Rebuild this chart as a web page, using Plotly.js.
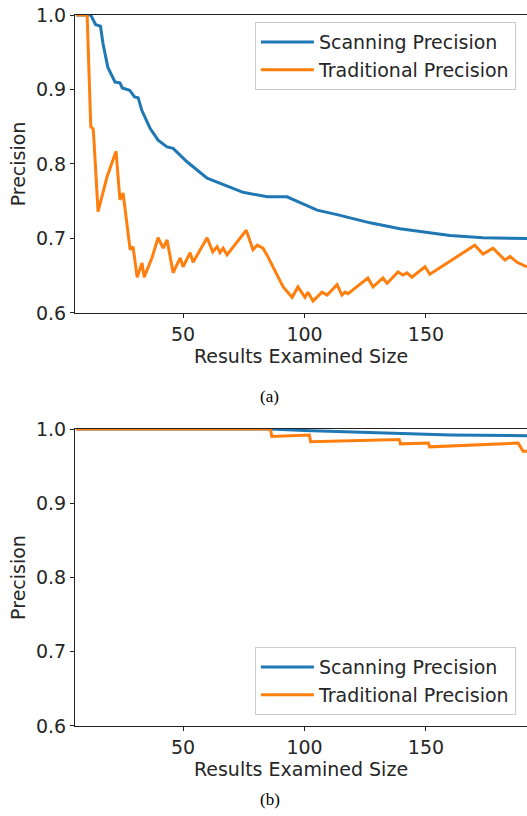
<!DOCTYPE html>
<html>
<head>
<meta charset="utf-8">
<script src="https://cdn.plot.ly/plotly-3.0.1.min.js"></script>
<style>html,body{margin:0;padding:0;background:#fff;}#chart{width:527px;height:816px;}</style>
</head>
<body>
<div id="chart"></div>
<script>
// ---- Data (a) ----
const scanX_a = [6, 12, 14, 16, 17, 19, 22, 24, 25, 28, 30, 31.5, 33, 36.4, 39.7, 43.4, 45.9, 50, 51.6, 59.9, 65.2, 74.7, 84.6, 92.8, 98.2, 105.2, 113.4, 118.7, 127, 139.3, 150.4, 159.9, 173.5, 191.6];
const scanY_a = [1.0, 1.0, 0.987, 0.985, 0.962, 0.930, 0.910, 0.909, 0.902, 0.899, 0.890, 0.889, 0.872, 0.848, 0.832, 0.823, 0.821, 0.808, 0.803, 0.781, 0.774, 0.762, 0.756, 0.756, 0.748, 0.738, 0.732, 0.728, 0.721, 0.713, 0.708, 0.704, 0.701, 0.700];
const tradX_a = [6, 10.5, 12, 13, 13.3, 15, 18.7, 22.4, 24, 25.3, 28.2, 29.4, 31.1, 33.1, 34, 37.3, 39.7, 41.8, 43.4, 45.9, 48.8, 50, 52.9, 54.1, 59.9, 62.2, 64, 65.2, 66.5, 68.1, 76, 78.8, 80.5, 82.9, 85, 91.2, 94.9, 97.3, 100.2, 101.4, 103.5, 107.2, 109.3, 113.4, 115.4, 116.7, 117.9, 126.1, 128.2, 132.3, 134, 138.5, 140.5, 142.2, 144.2, 149.6, 151.6, 170.1, 173.5, 177.6, 182.5, 184.6, 187.5, 191.6];
const tradY_a = [1.0, 1.0, 0.850, 0.847, 0.832, 0.736, 0.783, 0.817, 0.752, 0.761, 0.685, 0.689, 0.648, 0.667, 0.648, 0.675, 0.701, 0.687, 0.698, 0.654, 0.674, 0.662, 0.681, 0.668, 0.701, 0.682, 0.689, 0.681, 0.687, 0.678, 0.711, 0.685, 0.691, 0.687, 0.675, 0.635, 0.621, 0.635, 0.621, 0.628, 0.616, 0.628, 0.624, 0.638, 0.624, 0.628, 0.626, 0.647, 0.635, 0.647, 0.640, 0.655, 0.651, 0.654, 0.648, 0.662, 0.652, 0.691, 0.679, 0.687, 0.671, 0.676, 0.668, 0.662];
// ---- Data (b) ----
const scanX_b = [6, 86, 100, 120, 140, 160, 191.6];
const scanY_b = [1.0, 1.0, 0.998, 0.996, 0.994, 0.992, 0.991];
const tradX_b = [6, 86, 86.5, 102, 102.5, 139, 139.5, 151, 151.5, 188, 190, 191.6];
const tradY_b = [1.0, 1.0, 0.990, 0.992, 0.983, 0.986, 0.980, 0.981, 0.976, 0.981, 0.970, 0.970];
const names = ["Scanning Precision", "Traditional Precision"];
const xTicks = [50, 100, 150];
const yTicks = [0.6, 0.7, 0.8, 0.9, 1.0];

const BLUE = "#1f77b4", ORANGE = "#ff7f0e";
const FONT = "DejaVu Sans";
const FS = 19;
const traces = [
  {x: scanX_a, y: scanY_a, name: names[0], mode: "lines", line: {color: BLUE, width: 3}, xaxis: "x", yaxis: "y", legend: "legend"},
  {x: tradX_a, y: tradY_a, name: names[1], mode: "lines", line: {color: ORANGE, width: 3}, xaxis: "x", yaxis: "y", legend: "legend"},
  {x: scanX_b, y: scanY_b, name: names[0], mode: "lines", line: {color: BLUE, width: 3}, xaxis: "x2", yaxis: "y2", legend: "legend2"},
  {x: tradX_b, y: tradY_b, name: names[1], mode: "lines", line: {color: ORANGE, width: 3}, xaxis: "x2", yaxis: "y2", legend: "legend2"}
];
function xa(anchor) {
  return {anchor: anchor, domain: [0, 1], range: [5.5, 191.6], tickvals: xTicks, ticks: "outside", ticklen: 4, tickcolor: "#222",
    showline: true, linecolor: "#222", linewidth: 1, mirror: true, showgrid: false, zeroline: false,
    tickfont: {family: FONT, size: FS, color: "#262626"},
    title: {text: "Results Examined Size", font: {family: FONT, size: FS, color: "#262626"}, standoff: 2}};
}
function ya(anchor, dom) {
  return {anchor: anchor, domain: dom, range: [0.6, 1.0], tickvals: yTicks, tickformat: ".1f", ticks: "outside", ticklen: 4, tickcolor: "#222",
    showline: true, linecolor: "#222", linewidth: 1, showgrid: false, zeroline: false,
    tickfont: {family: FONT, size: FS, color: "#262626"},
    title: {text: "Precision", font: {family: FONT, size: FS, color: "#262626"}, standoff: 5}};
}
const legendBase = {xanchor: "left", yanchor: "top", bordercolor: "#cccccc", borderwidth: 1, bgcolor: "rgba(255,255,255,0.8)",
  itemwidth: 53, font: {family: FONT, size: FS, color: "#262626"}};
const layout = {
  width: 527, height: 816, margin: {l: 75, r: 0, t: 15, b: 90},
  paper_bgcolor: "#fff", plot_bgcolor: "#fff", showlegend: true,
  xaxis: xa("y"), yaxis: ya("x", [0.5809, 1]),
  xaxis2: xa("y2"), yaxis2: ya("x2", [0, 0.4177]),
  legend: Object.assign({x: 0.398, y: 0.990}, legendBase),
  legend2: Object.assign({x: 0.398, y: 0.111}, legendBase),
  annotations: [
    {text: "(a)", xref: "paper", yref: "paper", x: 0.431, y: 0.464, xanchor: "center", yanchor: "middle", showarrow: false, font: {family: "Liberation Serif", size: 17, color: "#000"}},
    {text: "(b)", xref: "paper", yref: "paper", x: 0.431, y: -0.104, xanchor: "center", yanchor: "middle", showarrow: false, font: {family: "Liberation Serif", size: 17, color: "#000"}}
  ]
};
Plotly.newPlot("chart", traces, layout, {displayModeBar: false, staticPlot: true});
</script>
</body>
</html>
